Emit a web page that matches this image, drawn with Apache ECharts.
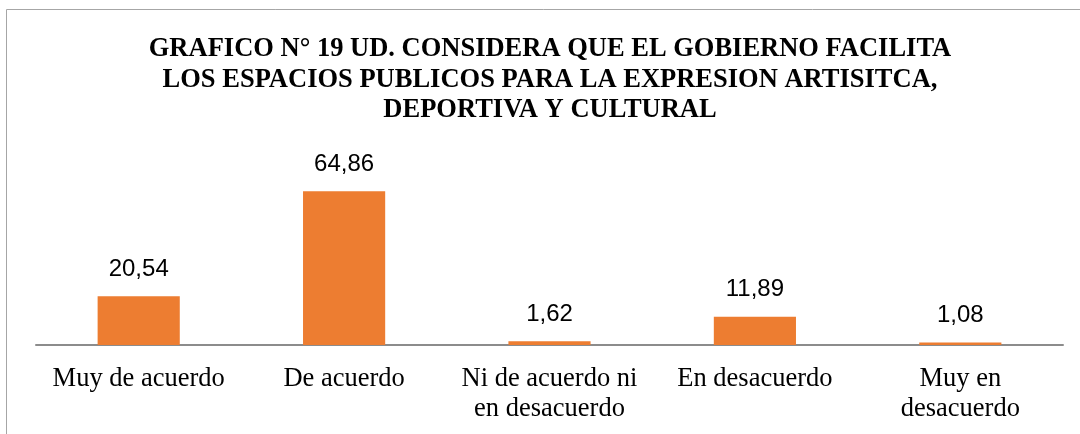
<!DOCTYPE html>
<html><head><meta charset="utf-8">
<script src="https://cdn.jsdelivr.net/npm/echarts@6/dist/echarts.min.js"></script>
<style>html,body{margin:0;padding:0;background:#fff}#c{width:1080px;height:434px}</style>
</head><body><div id="c"></div>
<script>
const titleText = "GRAFICO N° 19 UD. CONSIDERA QUE EL GOBIERNO FACILITA\nLOS ESPACIOS PUBLICOS PARA LA EXPRESION ARTISITCA,\nDEPORTIVA Y CULTURAL";
const categories = ["Muy de acuerdo", "De acuerdo", "Ni de acuerdo ni\nen desacuerdo", "En desacuerdo", "Muy en\ndesacuerdo"];
const values = [20.54, 64.86, 1.62, 11.89, 1.08];
const labels = ["20,54", "64,86", "1,62", "11,89", "1,08"];

const chart = echarts.init(document.getElementById('c'), null, {renderer: 'canvas'});
chart.setOption({
  animation: false,
  backgroundColor: '#fff',
  graphic: [{
    type: 'rect', shape: {x: 6.5, y: 9.5, width: 1200, height: 600},
    style: {fill: 'none', stroke: '#a6a6a6', lineWidth: 1}, silent: true
  }],
  title: {
    text: titleText, left: 545, top: 29, textAlign: 'center',
    textStyle: {fontFamily: 'Liberation Serif', fontWeight: 'bold', fontSize: 26.5, lineHeight: 30.5, color: '#000'}
  },
  grid: {left: 36, right: 17, top: 179, bottom: 89, containLabel: false},
  xAxis: {
    type: 'category', data: categories,
    axisLine: {lineStyle: {color: '#8c8c8c', width: 2}},
    axisTick: {show: false},
    axisLabel: {fontFamily: 'Liberation Serif', fontSize: 26.5, lineHeight: 30, color: '#000', margin: 19, interval: 0}
  },
  yAxis: {type: 'value', min: 0, max: 70, show: false, splitLine: {show: false}},
  series: [{
    type: 'bar', data: values, barWidth: '40%',
    itemStyle: {color: '#ED7D31'},
    label: {
      show: true, position: 'top', distance: 15,
      formatter: p => labels[p.dataIndex],
      fontFamily: 'Liberation Sans', fontSize: 24, color: '#000'
    }
  }]
});
</script></body></html>
